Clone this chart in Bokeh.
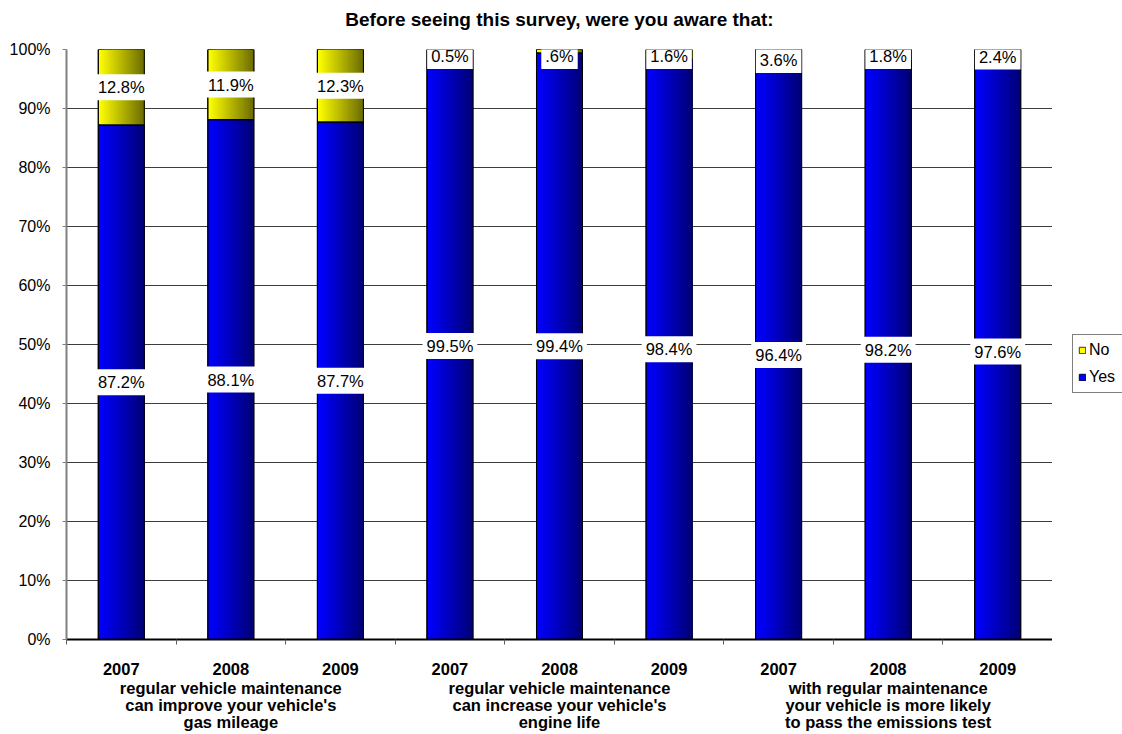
from bokeh.plotting import figure
from bokeh.layouts import row
from bokeh.models import (ColumnDataSource, Range1d, FixedTicker, LinearAxis,
                          PrintfTickFormatter, Legend, LegendItem)
from bokeh.transform import dodge
from bokeh.core.properties import value
from bokeh.embed import file_html
from bokeh.resources import INLINE

# ---------------- data ----------------
years = ["2007", "2008", "2009", "2007", "2008", "2009", "2007", "2008", "2009"]
group_of_bar = [0, 0, 0, 1, 1, 1, 2, 2, 2]
groups = [
    "regular vehicle maintenance\ncan improve your vehicle's\ngas mileage",
    "regular vehicle maintenance\ncan increase your vehicle's\nengine life",
    "with regular maintenance\nyour vehicle is more likely\nto pass the emissions test",
]
yes_values = [87.2, 88.1, 87.7, 99.5, 99.4, 98.4, 96.4, 98.2, 97.6]
no_values = [12.8, 11.9, 12.3, 0.5, 0.6, 1.6, 3.6, 1.8, 2.4]
yes_labels = ["87.2%", "88.1%", "87.7%", "99.5%", "99.4%", "98.4%", "96.4%", "98.2%", "97.6%"]
no_labels = ["12.8%", "11.9%", "12.3%", "0.5%", ".6%", "1.6%", "3.6%", "1.8%", "2.4%"]
series_names = ["No", "Yes"]
title_text = "Before seeing this survey, were you aware that:"

FONT = "Liberation Sans"
YES_COL = ("#0000ff", "#000078")
NO_COL = ("#ffff00", "#6e6e00")

n = len(years)
xs = [i + 0.5 for i in range(n)]
tops = [y + m for y, m in zip(yes_values, no_values)]
yes_mid = [y / 2 for y in yes_values]
no_mid = [min(y + m / 2, 98.9) for y, m in zip(yes_values, no_values)]

src = ColumnDataSource(dict(x=xs, yes=yes_values, top=tops, yes_mid=yes_mid,
                            no_mid=no_mid, yes_lbl=yes_labels, no_lbl=no_labels))

p = figure(width=1052, height=734,
           x_range=Range1d(0, n), y_range=Range1d(0, 100),
           output_backend="svg", toolbar_location=None,
           min_border_left=66, min_border_right=0, min_border_top=49, min_border_bottom=95)
p.background_fill_color = "white"
p.border_fill_color = "white"
p.outline_line_color = None
xa = p.below[0]
ya = p.left[0]


def lerp_hex(c1, c2, t):
    a = [int(c1[i:i + 2], 16) for i in (1, 3, 5)]
    b = [int(c2[i:i + 2], 16) for i in (1, 3, 5)]
    return "#%02x%02x%02x" % tuple(round(a[k] + (b[k] - a[k]) * t) for k in range(3))


W = 0.42
# base (solid) bars
p.vbar(x="x", width=W, bottom=0, top="yes", source=src,
       fill_color=YES_COL[0], line_color="#000000", line_width=1)
p.vbar(x="x", width=W, bottom="yes", top="top", source=src,
       fill_color=NO_COL[0], line_color="#000000", line_width=1)

# horizontal gradient (bright on the left, dark on the right)
N = 24
d = W / N
for i in range(1, N):
    t = i / (N - 1)
    wi = W - i * d
    off = i * d / 2
    p.vbar(x=dodge("x", off), width=wi, bottom=0, top="yes", source=src,
           fill_color=lerp_hex(YES_COL[0], YES_COL[1], t), line_color=None)
    p.vbar(x=dodge("x", off), width=wi, bottom="yes", top="top", source=src,
           fill_color=lerp_hex(NO_COL[0], NO_COL[1], t), line_color=None)

# outlines
p.vbar(x="x", width=W, bottom=0, top="yes", source=src, fill_color=None,
       line_color="#000000", line_width=1)
p.vbar(x="x", width=W, bottom="yes", top="top", source=src, fill_color=None,
       line_color="#000000", line_width=1)

# data labels
for col_y, col_t in (("yes_mid", "yes_lbl"), ("no_mid", "no_lbl")):
    p.text(x="x", y=col_y, text=col_t, source=src, text_align="center",
           text_baseline="middle", text_font=value(FONT), text_font_size="16.5px",
           text_color="black", background_fill_color="white", padding=4)

# y axis
ya.ticker = FixedTicker(ticks=list(range(0, 101, 10)))
ya.formatter = PrintfTickFormatter(format="%d%%")
ya.axis_line_color = "#808080"
ya.axis_line_width = 2
ya.major_tick_in = 0
ya.major_tick_out = 4
ya.major_tick_line_color = "#808080"
ya.minor_tick_line_color = None
ya.major_label_text_font = FONT
ya.major_label_text_font_size = "16px"
ya.major_label_text_color = "black"
ya.major_label_standoff = 12

p.ygrid.ticker = FixedTicker(ticks=list(range(0, 101, 10)))
p.ygrid.grid_line_color = "#3c3c3c"
p.ygrid.grid_line_width = 1
p.xgrid.grid_line_color = None

# x axis: years at bar centres, tick marks at category boundaries
xa.ticker = FixedTicker(ticks=xs, minor_ticks=list(range(0, n + 1)))
xa.major_label_overrides = {x: y for x, y in zip(xs, years)}
xa.axis_line_color = "black"
xa.axis_line_width = 2
xa.major_tick_out = 0
xa.major_tick_in = 0
xa.minor_tick_out = 5
xa.minor_tick_in = 0
xa.minor_tick_line_color = "#606060"
xa.major_label_text_font = FONT
xa.major_label_text_font_size = "16.5px"
xa.major_label_text_font_style = "bold"
xa.major_label_text_color = "black"
xa.major_label_standoff = 18

# group axis
gcent = [sum(xs[i] for i in range(n) if group_of_bar[i] == g) / group_of_bar.count(g)
         for g in range(len(groups))]
ga = LinearAxis(ticker=FixedTicker(ticks=gcent, minor_ticks=[]),
                major_label_overrides={c: g for c, g in zip(gcent, groups)})
ga.axis_line_color = None
ga.major_tick_line_color = None
ga.minor_tick_line_color = None
ga.major_tick_out = 0
ga.major_tick_in = 0
ga.major_label_standoff = 1
ga.major_label_text_font = FONT
ga.major_label_text_font_size = "16.5px"
ga.major_label_text_font_style = "bold"
ga.major_label_text_color = "black"
ga.major_label_text_line_height = 0.95
p.add_layout(ga, "below")

# title as the label of an empty axis above the frame
ta = LinearAxis(ticker=FixedTicker(ticks=[], minor_ticks=[]), axis_label=title_text)
ta.axis_line_color = None
ta.major_tick_line_color = None
ta.minor_tick_line_color = None
ta.major_tick_out = 0
ta.major_tick_in = 0
ta.major_label_standoff = 0
ta.axis_label_standoff = 20
ta.axis_label_text_font = FONT
ta.axis_label_text_font_size = "19px"
ta.axis_label_text_font_style = "bold"
ta.axis_label_text_color = "black"
p.add_layout(ta, "above")

# legend panel (separate narrow figure to the right of the plot area)
lg = figure(width=70, height=734, x_range=Range1d(-20, -10), y_range=Range1d(0, 100),
            output_backend="svg", toolbar_location=None,
            x_axis_location=None, y_axis_location=None,
            min_border_left=0, min_border_right=0, min_border_top=0, min_border_bottom=0)
lg.outline_line_color = None
lg.xgrid.grid_line_color = None
lg.ygrid.grid_line_color = None
lg.background_fill_color = "white"
lg.border_fill_color = "white"
# same series as the chart, but the legend figure's x range keeps them out of view
r_no = lg.vbar(x="x", width=W, bottom="yes", top="top", source=src,
               fill_color=NO_COL[0], line_color="#3a3a00", line_width=1)
r_yes = lg.vbar(x="x", width=W, bottom=0, top="yes", source=src,
                fill_color=YES_COL[0], line_color="#000040", line_width=1)

legend = Legend(items=[LegendItem(label=series_names[0], renderers=[r_no]),
                       LegendItem(label=series_names[1], renderers=[r_yes])],
                location=(20, 246))
legend.border_line_color = "black"
legend.border_line_width = 1
legend.background_fill_color = "white"
legend.background_fill_alpha = 1
legend.label_text_font = FONT
legend.label_text_font_size = "16px"
legend.label_text_color = "black"
legend.glyph_width = 8
legend.glyph_height = 8
legend.padding = 5
legend.spacing = 7
legend.label_standoff = 3
legend.label_width = 30
legend.margin = 0
legend.label_height = 20
lg.add_layout(legend, "center")

layout = row(p, lg, spacing=0)
open("out.html", "w").write(file_html(layout, INLINE))
